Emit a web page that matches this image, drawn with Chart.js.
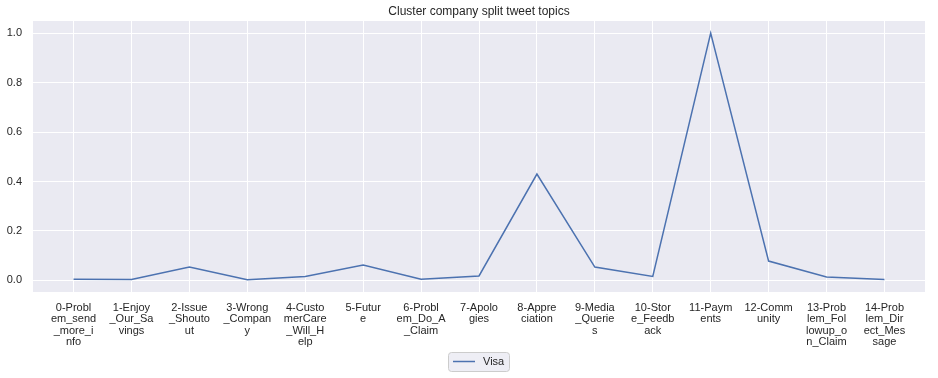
<!DOCTYPE html>
<html>
<head>
<meta charset="utf-8">
<script src="https://cdn.jsdelivr.net/npm/chart.js@4/dist/chart.umd.min.js"></script>
<style>
  body { margin: 0; background: #fff; }
</style>
</head>
<body>
<canvas id="topicsChart" width="938" height="378"></canvas>
<script>
const topics = [
    '0-Problem_send_more_info', '1-Enjoy_Our_Savings', '2-Issue_Shoutout', '3-Wrong_Company',
    '4-CustomerCare_Will_Help', '5-Future', '6-Problem_Do_A_Claim', '7-Apologies',
    '8-Appreciation', '9-Media_Queries', '10-Store_Feedback', '11-Payments',
    '12-Community', '13-Problem_Followup_on_Claim', '14-Problem_Direct_Message'
];
const visaValues = [0.005, 0.004, 0.054, 0.0025, 0.016, 0.062, 0.005, 0.018, 0.43, 0.054, 0.016, 1.0, 0.078, 0.014, 0.004];
const yTickValues = [0.0, 0.2, 0.4, 0.6, 0.8, 1.0];
const seriesName = 'Visa';

const FONT = '"Liberation Sans", Arial, sans-serif';
const TEXT = '#262626';
const BLUE = '#4C72B0';

// matplotlib-style textwrap at 7 chars
const wrapLabel = (s, n = 7) => {
    const out = [];
    for (let i = 0; i < s.length; i += n) out.push(s.slice(i, i + n));
    return out;
};

const plotBackground = {
    id: 'plotBackground',
    beforeDraw(chart) {
        const { ctx, chartArea: a } = chart;
        ctx.save();
        ctx.fillStyle = '#EAEAF2';
        ctx.fillRect(a.left, a.top, a.right - a.left, a.bottom - a.top);
        ctx.restore();
    }
};

const boxLegend = {
    id: 'boxLegend',
    afterDraw(chart) {
        const ctx = chart.ctx;
        const x = 448.5, y = 352.5, w = 61, h = 19;
        ctx.save();
        ctx.beginPath();
        ctx.roundRect(x, y, w, h, 3);
        ctx.fillStyle = '#EEEEF5';
        ctx.fill();
        ctx.strokeStyle = '#CCCCCC';
        ctx.lineWidth = 1;
        ctx.stroke();
        ctx.beginPath();
        ctx.moveTo(453, 361.5);
        ctx.lineTo(475, 361.5);
        ctx.strokeStyle = BLUE;
        ctx.lineWidth = 1.5;
        ctx.stroke();
        ctx.fillStyle = TEXT;
        ctx.font = '11px ' + FONT;
        ctx.textBaseline = 'middle';
        ctx.fillText(seriesName, 483, 362);
        ctx.restore();
    }
};

const ctx = document.getElementById('topicsChart').getContext('2d');
new Chart(ctx, {
    type: 'line',
    data: {
        datasets: [{
            label: seriesName,
            data: visaValues.map((v, i) => ({ x: i, y: v })),
            borderColor: BLUE,
            borderWidth: 1.5,
            pointRadius: 0,
            fill: false,
            tension: 0
        }]
    },
    options: {
        responsive: false,
        animation: false,
        layout: { padding: { left: 0, right: 13, top: 0, bottom: 24 } },
        plugins: {
            legend: { display: false },
            tooltip: { enabled: false },
            title: {
                display: true,
                text: 'Cluster company split tweet topics',
                color: TEXT,
                fullSize: false,
                font: { family: FONT, size: 12, weight: 'normal' },
                padding: { top: 4, bottom: 2.6 }
            }
        },
        scales: {
            x: {
                type: 'linear',
                min: -0.7,
                max: 14.7,
                afterBuildTicks: (scale) => {
                    scale.ticks = topics.map((t, i) => ({ value: i }));
                },
                afterFit: (scale) => { scale.height = 62; },
                grid: { color: '#ffffff', lineWidth: 1, drawTicks: false },
                border: { display: false },
                ticks: {
                    autoSkip: false,
                    maxRotation: 0,
                    padding: 10,
                    color: TEXT,
                    font: { family: FONT, size: 11, lineHeight: 1.04 },
                    callback: (value) => wrapLabel(topics[value] || '')
                }
            },
            y: {
                min: -0.047,
                max: 1.049,
                afterBuildTicks: (scale) => {
                    scale.ticks = yTickValues.map(v => ({ value: v }));
                },
                afterFit: (scale) => { scale.width = 33; },
                grid: { color: '#ffffff', lineWidth: 1, drawTicks: false },
                border: { display: false },
                ticks: {
                    padding: 11,
                    color: TEXT,
                    font: { family: FONT, size: 11 },
                    callback: (value) => Number(value).toFixed(1)
                }
            }
        }
    },
    plugins: [plotBackground, boxLegend]
});
</script>
</body>
</html>
